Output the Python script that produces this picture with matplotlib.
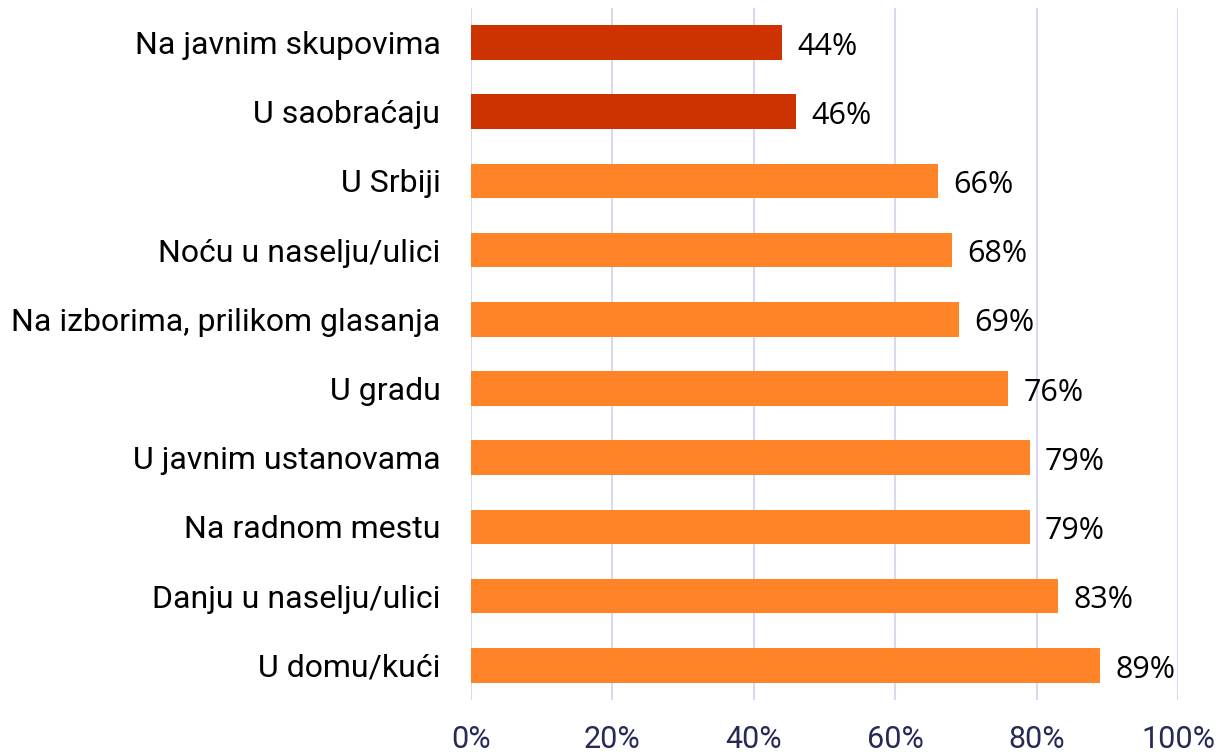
import matplotlib.pyplot as plt
import numpy as np

categories = ["U domu/kući", "Danju u naselju/ulici", "Na radnom mestu",
              "U javnim ustanovama", "U gradu", "Na izborima, prilikom glasanja",
              "Noću u naselju/ulici", "U Srbiji", "U saobraćaju", "Na javnim skupovima"]
values = [89, 83, 79, 79, 76, 69, 68, 66, 46, 44]
ticks = [0, 20, 40, 60, 80, 100]

orange = "#FF8427"
red = "#CC3300"
colors = [red if v < 50 else orange for v in values]

fig = plt.figure(figsize=(12.19, 7.54), dpi=100)
ax = fig.add_axes([0.3864, 0.0716, 0.58, 0.918])

y = np.arange(len(categories))
ax.barh(y, values, height=0.5, color=colors, zorder=3)

# value labels next to the bars
for yi, v in zip(y, values):
    ax.annotate(f"{v}%", (v, yi), xytext=(11, -3), textcoords="offset points",
                va="center", ha="left", fontsize=22, family="Open Sans", color="black")

ax.set_xlim(0, 100)
ax.set_ylim(-0.5, len(categories) - 0.5)
ax.set_xticks(ticks)
ax.set_xticklabels([f"{t}%" for t in ticks], family="Roboto", fontsize=22, color="#262A56")
ax.set_yticks(y)
ax.set_yticklabels(categories, family="Roboto", fontsize=23, color="black")
ax.tick_params(axis="both", length=0)
ax.tick_params(axis="x", pad=18)
ax.tick_params(axis="y", pad=22)

ax.grid(axis="x", color="#D8D8F0", linewidth=1.5, zorder=0)
for s in ax.spines.values():
    s.set_visible(False)

plt.savefig("out.png", dpi=100)
